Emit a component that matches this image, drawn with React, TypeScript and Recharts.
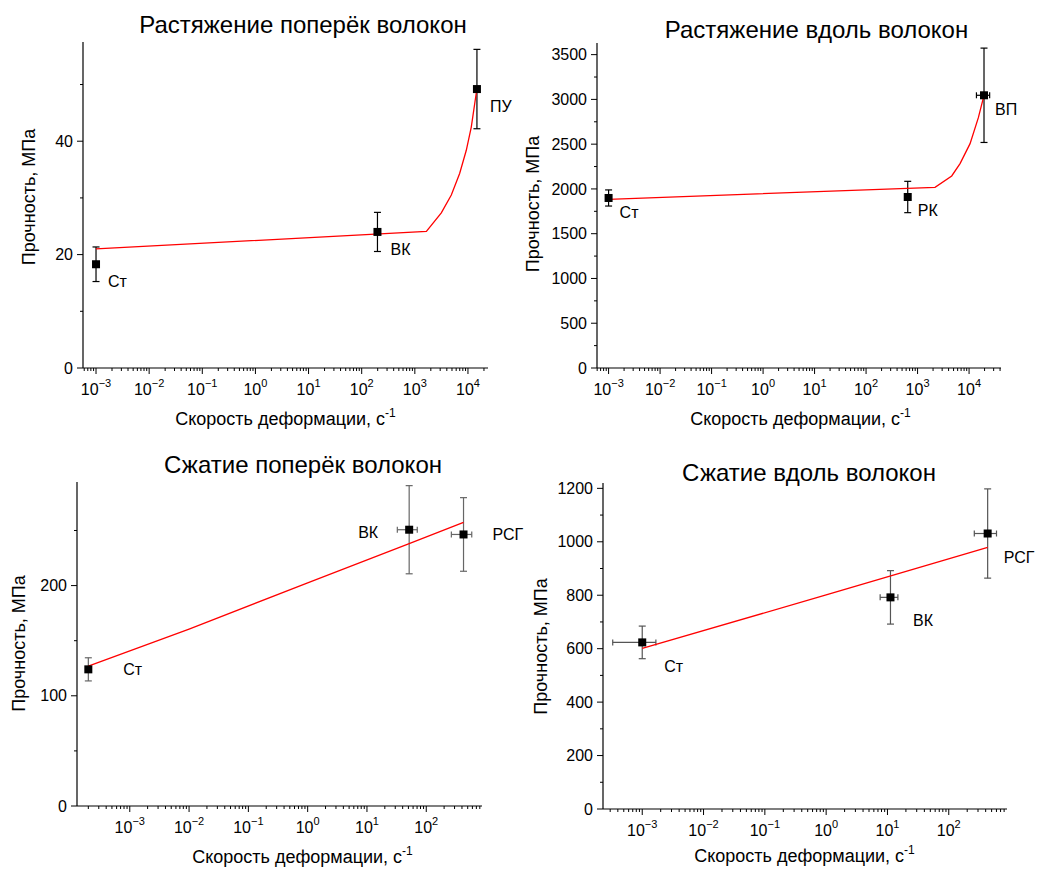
import React from 'react';
import { ScatterChart, Scatter, XAxis, YAxis, ErrorBar } from 'recharts';

// ---------- Chart 1: Растяжение поперёк волокон ----------
const c1Names = ['Ст', 'ВК', 'ПУ'];
const c1X = [1e-3, 198, 14750];
const c1Y = [18.3, 24.0, 49.2];
const c1YErr = [3.05, 3.45, 7.0];
const c1XErr = [0, 0, 0];
const c1FitX = [1e-3, 1650, 3150, 4860, 6970, 9300, 11540, 14750];
const c1FitY = [21.0, 24.1, 27.35, 30.5, 34.3, 38.4, 42.5, 49.3];
const c1YTicks = [0, 10, 20, 30, 40, 50];
const c1YLabels = [0, 20, 40];
const c1XExp = [-3, -2, -1, 0, 1, 2, 3, 4];

// ---------- Chart 2: Растяжение вдоль волокон ----------
const c2Names = ['Ст', 'РК', 'ВП'];
const c2X = [1e-3, 644, 19500];
const c2Y = [1899, 1910, 3046];
const c2YErr = [90, 175, 527];
const c2XErr = [0, 0, 5600];
const c2FitX = [1e-3, 2183, 4600, 6680, 10450, 15150, 19500];
const c2FitY = [1884, 2018, 2145, 2283, 2506, 2796, 3046];
const c2YTicks = [0, 250, 500, 750, 1000, 1250, 1500, 1750, 2000, 2250, 2500, 2750, 3000, 3250, 3500];
const c2YLabels = [0, 500, 1000, 1500, 2000, 2500, 3000, 3500];
const c2XExp = [-3, -2, -1, 0, 1, 2, 3, 4];

// ---------- Chart 3: Сжатие поперёк волокон ----------
const c3Names = ['Ст', 'ВК', 'РСГ'];
const c3X = [2e-4, 51.5, 425];
const c3Y = [124, 250.7, 246.4];
const c3YErr = [10.5, 40, 33.4];
const c3XErr = [0, 19, 160];
const c3FitX = [2e-4, 0.01, 1, 51.5, 425];
const c3FitY = [127, 160.5, 202.5, 238, 257.3];
const c3YTicks = [0, 50, 100, 150, 200, 250];
const c3YLabels = [0, 100, 200];
const c3XExp = [-3, -2, -1, 0, 1, 2];

// ---------- Chart 4: Сжатие вдоль волокон ----------
const c4Names = ['Ст', 'ВК', 'РСГ'];
const c4X = [1e-3, 11.2, 431];
const c4Y = [623.5, 792, 1031];
const c4YErr = [61, 100, 167];
const c4XErr = [0.00067, 3.6, 170];
const c4FitX = [1e-3, 1, 431];
const c4FitY = [601, 801, 979];
const c4YTicks = [0, 100, 200, 300, 400, 500, 600, 700, 800, 900, 1000, 1100, 1200];
const c4YLabels = [0, 200, 400, 600, 800, 1000, 1200];
const c4XExp = [-3, -2, -1, 0, 1, 2];

const titles = ['Растяжение поперёк волокон', 'Растяжение вдоль волокон', 'Сжатие поперёк волокон', 'Сжатие вдоль волокон'];
const xTitleText = 'Скорость деформации, с';
const xTitleSup = '-1';
const yTitleText = 'Прочность, МПа';
const minorMultipliers = [2, 3, 4, 5, 6, 7, 8, 9];

const FONT = '"Liberation Sans", Arial, Helvetica, sans-serif';

type ChartDef = {
  names: string[]; xs: number[]; ys: number[]; yErr: number[]; xErr: number[];
  fitX: number[]; fitY: number[]; xDomain: [number, number]; yDomain: [number, number];
  xExp: number[]; yTicks: number[]; yLabels: number[];
};

const charts: ChartDef[] = [
  { names: c1Names, xs: c1X, ys: c1Y, yErr: c1YErr, xErr: c1XErr, fitX: c1FitX, fitY: c1FitY,
    xDomain: [Math.pow(10, -3.245), Math.pow(10, 4.377)], yDomain: [0, 57.5], xExp: c1XExp, yTicks: c1YTicks, yLabels: c1YLabels },
  { names: c2Names, xs: c2X, ys: c2Y, yErr: c2YErr, xErr: c2XErr, fitX: c2FitX, fitY: c2FitY,
    xDomain: [Math.pow(10, -3.225), Math.pow(10, 4.62)], yDomain: [0, 3630], xExp: c2XExp, yTicks: c2YTicks, yLabels: c2YLabels },
  { names: c3Names, xs: c3X, ys: c3Y, yErr: c3YErr, xErr: c3XErr, fitX: c3FitX, fitY: c3FitY,
    xDomain: [Math.pow(10, -3.89), Math.pow(10, 2.94)], yDomain: [0, 294], xExp: c3XExp, yTicks: c3YTicks, yLabels: c3YLabels },
  { names: c4Names, xs: c4X, ys: c4Y, yErr: c4YErr, xErr: c4XErr, fitX: c4FitX, fitY: c4FitY,
    xDomain: [Math.pow(10, -3.64), Math.pow(10, 2.95)], yDomain: [0, 1220], xExp: c4XExp, yTicks: c4YTicks, yLabels: c4YLabels },
];

type Layout = {
  box: { left: number; top: number; width: number; height: number };
  plot: { left: number; top: number; right: number; bottom: number };
  labelOffsets: [number, number, 'start' | 'end'][];
  errColor: string;
  title: { x: number; y: number };
  xTitle: { x: number; y: number };
  yTitle: { x: number; y: number };
};

const layouts: Layout[] = [
  { box: { left: 0, top: 0, width: 540, height: 435 }, plot: { left: 83, top: 42, right: 488, bottom: 368 },
    labelOffsets: [[12, 17, 'start'], [13, 17, 'start'], [13, 17, 'start']], errColor: '#000',
    title: { x: 303, y: 33 }, xTitle: { x: 285.5, y: 424.5 }, yTitle: { x: 29, y: 197 } },
  { box: { left: 518, top: 0, width: 519, height: 435 }, plot: { left: 597, top: 43, right: 1001, bottom: 368 },
    labelOffsets: [[11, 14, 'start'], [10, 13, 'start'], [11, 14, 'start']], errColor: '#000',
    title: { x: 816.5, y: 38 }, xTitle: { x: 800.5, y: 425 }, yTitle: { x: 532.5, y: 204 } },
  { box: { left: 0, top: 435, width: 540, height: 435 }, plot: { left: 77, top: 482, right: 482, bottom: 806 },
    labelOffsets: [[35, 0, 'start'], [-31, 3, 'end'], [29, 0, 'start']], errColor: '#666',
    title: { x: 303, y: 473 }, xTitle: { x: 302.5, y: 863 }, yTitle: { x: 18.5, y: 643.5 } },
  { box: { left: 518, top: 435, width: 519, height: 435 }, plot: { left: 603, top: 483, right: 1007, bottom: 809 },
    labelOffsets: [[22, 24, 'start'], [22.5, 23, 'start'], [16, 23.5, 'start']], errColor: '#555',
    title: { x: 809, y: 481 }, xTitle: { x: 804.5, y: 862 }, yTitle: { x: 541, y: 646.5 } },
];

const Y_AXIS_W = 50;
const X_AXIS_H = 40;

const XTick = (props: any) => {
  const { x, y, payload } = props;
  const v = payload.value;
  const e = Math.log10(v);
  const major = Math.abs(e - Math.round(e)) < 1e-6;
  if (!major) {
    return <line x1={x} x2={x} y1={y} y2={y + 3} stroke="#000" strokeWidth={1} />;
  }
  const exp = Math.round(e);
  const expStr = exp < 0 ? '\u2212' + Math.abs(exp) : String(exp);
  return (
    <g>
      <line x1={x} x2={x} y1={y} y2={y + 6} stroke="#000" strokeWidth={1} />
      <text x={x} y={y + 27} textAnchor="middle" fontSize={16} fontFamily={FONT} fill="#000">
        <tspan>10</tspan>
        <tspan dy={-8} fontSize={11}>{expStr}</tspan>
      </text>
    </g>
  );
};

const makeYTick = (labels: number[]) => (props: any) => {
  const { x, y, payload } = props;
  const major = labels.includes(payload.value);
  return (
    <g>
      <line x1={x} x2={x - (major ? 6 : 3)} y1={y} y2={y} stroke="#000" strokeWidth={1} />
      {major && (
        <text x={x - 10} y={y + 5.7} textAnchor="end" fontSize={16} fontFamily={FONT} fill="#000">
          {payload.value}
        </text>
      )}
    </g>
  );
};

const makePointShape = (names: string[], offsets: [number, number, 'start' | 'end'][]) => (props: any) => {
  const { cx, cy, payload } = props;
  const i = names.indexOf(payload.name);
  const off = offsets[i] || [12, 16, 'start'];
  return (
    <g>
      <rect x={cx - 4} y={cy - 4} width={8} height={8} fill="#000" />
      <text x={cx + off[0]} y={cy + off[1] + 5.7} textAnchor={off[2]} fontSize={16} fontFamily={FONT} fill="#000">
        {payload.name}
      </text>
    </g>
  );
};

const noShape = () => <g />;

function buildXTicks(def: ChartDef): number[] {
  const [lo, hi] = def.xDomain;
  const out: number[] = [];
  const first = def.xExp[0] - 1;
  const last = def.xExp[def.xExp.length - 1];
  for (let e = first; e <= last; e++) {
    const base = Math.pow(10, e);
    if (def.xExp.includes(e)) out.push(base);
    for (const m of minorMultipliers) {
      const v = m * base;
      if (v >= lo && v <= hi) out.push(v);
    }
  }
  return out.filter((v) => v >= lo && v <= hi).sort((a, b) => a - b);
}

const OneChart = ({ def, lay }: { def: ChartDef; lay: Layout }) => {
  const points = def.names.map((n, i) => ({ name: n, x: def.xs[i], y: def.ys[i], ey: def.yErr[i], ex: def.xErr[i] }));
  const fit = def.fitX.map((x, i) => ({ x, y: def.fitY[i] }));
  const { box, plot } = lay;
  const margin = {
    top: plot.top - box.top,
    left: plot.left - box.left - Y_AXIS_W,
    right: box.left + box.width - plot.right,
    bottom: box.top + box.height - plot.bottom - X_AXIS_H,
  };
  return (
    <div style={{ position: 'absolute', left: box.left, top: box.top, width: box.width, height: box.height }}>
      <ScatterChart width={box.width} height={box.height} margin={margin}>
        <XAxis
          type="number"
          dataKey="x"
          scale="log"
          domain={def.xDomain}
          ticks={buildXTicks(def)}
          tick={<XTick />}
          tickLine={false}
          tickSize={0}
          tickMargin={0}
          interval={0}
          height={X_AXIS_H}
          axisLine={{ stroke: '#000', strokeWidth: 1.2 }}
        />
        <YAxis
          type="number"
          dataKey="y"
          domain={def.yDomain}
          ticks={def.yTicks}
          tick={makeYTick(def.yLabels)}
          tickLine={false}
          tickSize={0}
          tickMargin={0}
          interval={0}
          width={Y_AXIS_W}
          axisLine={{ stroke: '#000', strokeWidth: 1.2 }}
        />
        <Scatter
          data={fit}
          line={{ stroke: '#ff0000', strokeWidth: 1.3 }}
          lineType="joint"
          shape={noShape}
          isAnimationActive={false}
        />
        <Scatter data={points} shape={makePointShape(def.names, lay.labelOffsets)} isAnimationActive={false}>
          <ErrorBar dataKey="ey" direction="y" width={3.5} stroke={lay.errColor} strokeWidth={1.2} />
          <ErrorBar dataKey="ex" direction="x" width={3} stroke={lay.errColor} strokeWidth={1.2} />
        </Scatter>
      </ScatterChart>
    </div>
  );
};

export default function App() {
  return (
    <div style={{ position: 'absolute', left: 0, top: 0, width: 1037, height: 870, background: '#fff', fontFamily: FONT }}>
      {charts.map((def, i) => (
        <OneChart key={i} def={def} lay={layouts[i]} />
      ))}
      <svg width={1037} height={870} style={{ position: 'absolute', left: 0, top: 0, pointerEvents: 'none' }}>
        {layouts.map((l, i) => (
          <g key={i} fontFamily={FONT} fill="#000">
            <text x={l.title.x} y={l.title.y} textAnchor="middle" fontSize={24}>{titles[i]}</text>
            <text x={l.xTitle.x} y={l.xTitle.y} textAnchor="middle" fontSize={18}>
              <tspan>{xTitleText}</tspan>
              <tspan dy={-8} fontSize={12}>{xTitleSup}</tspan>
            </text>
            <text
              x={l.yTitle.x + 6}
              y={l.yTitle.y}
              textAnchor="middle"
              fontSize={18}
              transform={`rotate(-90 ${l.yTitle.x + 6} ${l.yTitle.y})`}
            >
              {yTitleText}
            </text>
          </g>
        ))}
      </svg>
    </div>
  );
}
